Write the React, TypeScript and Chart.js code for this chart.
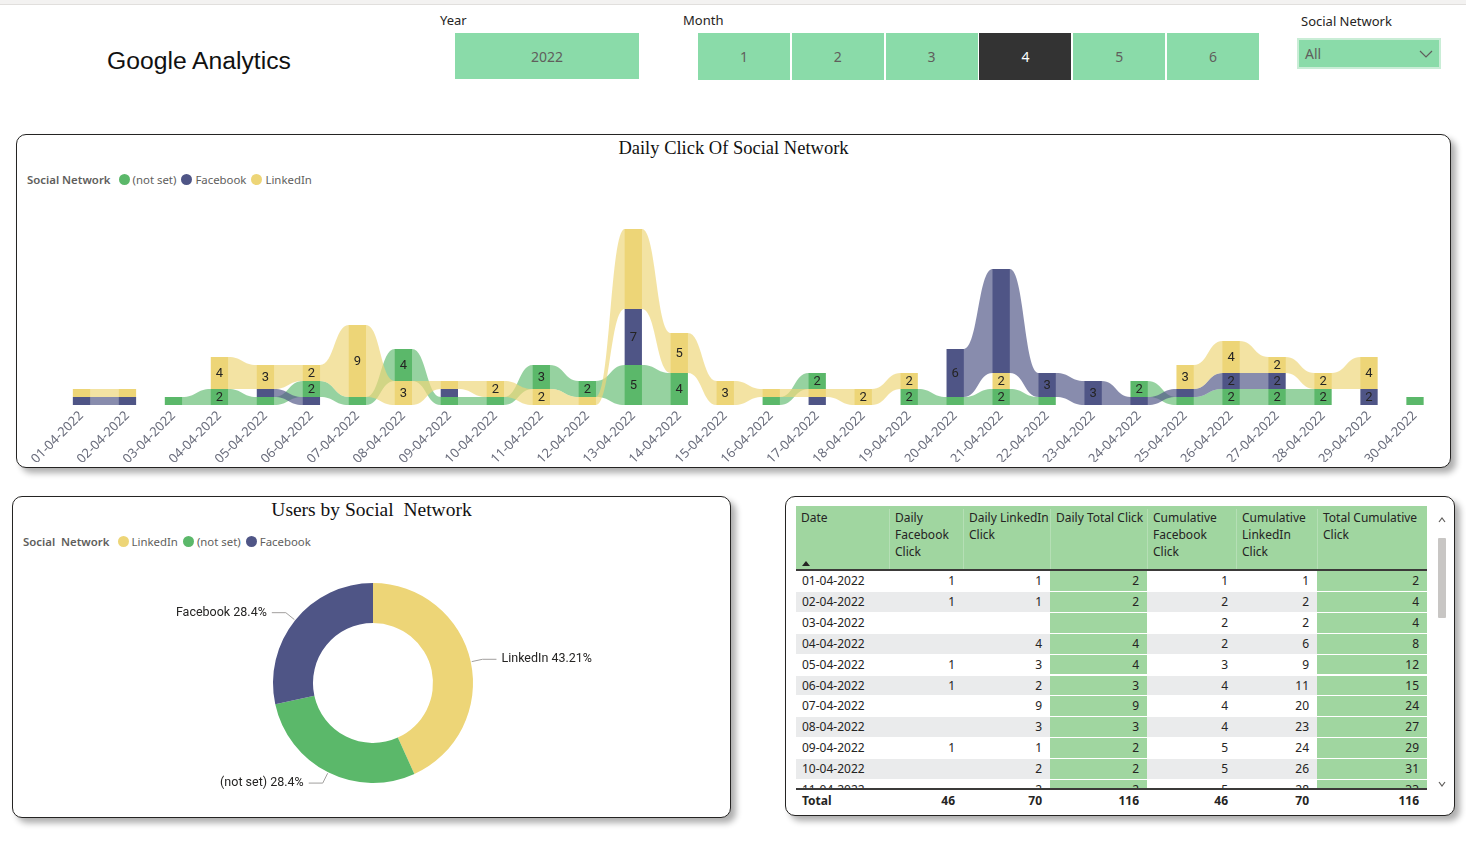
import React, { useEffect, useRef } from "react";
import { Chart, registerables } from "chart.js";

Chart.register(...registerables);

// ---------- data ----------
const dates = [
  "01-04-2022", "02-04-2022", "03-04-2022", "04-04-2022", "05-04-2022", "06-04-2022",
  "07-04-2022", "08-04-2022", "09-04-2022", "10-04-2022", "11-04-2022", "12-04-2022",
  "13-04-2022", "14-04-2022", "15-04-2022", "16-04-2022", "17-04-2022", "18-04-2022",
  "19-04-2022", "20-04-2022", "21-04-2022", "22-04-2022", "23-04-2022", "24-04-2022",
  "25-04-2022", "26-04-2022", "27-04-2022", "28-04-2022", "29-04-2022", "30-04-2022",
];
const notSetClicks = [0, 0, 1, 2, 1, 2, 1, 4, 1, 1, 3, 2, 5, 4, 0, 1, 2, 0, 2, 1, 2, 1, 0, 2, 1, 2, 2, 2, 0, 1];
const facebookClicks = [1, 1, 0, 0, 1, 1, 0, 0, 1, 0, 0, 0, 7, 0, 0, 0, 1, 0, 0, 6, 13, 3, 3, 1, 1, 2, 2, 0, 2, 0];
const linkedinClicks = [1, 1, 0, 4, 3, 2, 9, 3, 1, 2, 2, 1, 10, 5, 3, 1, 1, 2, 2, 0, 2, 0, 0, 0, 3, 4, 2, 2, 4, 0];
const seriesNames = ["(not set)", "Facebook", "LinkedIn"];
const donutLabels = ["LinkedIn", "(not set)", "Facebook"];
const yearOptions = ["2022"];
const monthOptions = ["1", "2", "3", "4", "5", "6"];
const selectedMonth = "4";

// ---------- styles ----------
const BAR_COLORS = ["#5BB86A", "#4F5586", "#EDD577"];
const RIBBON_COLORS = ["rgba(91,184,106,0.64)", "rgba(79,85,134,0.68)", "rgba(237,213,119,0.68)"];
const UI_FONT = '"Noto Sans", "Open Sans", sans-serif';
const SLICER = "#8ADBA9";
const TABLE_GREEN = "#A0D6A0";

const seriesValues = [notSetClicks, facebookClicks, linkedinClicks];

function stackRanges(i: number) {
  const vals = seriesValues.map((s) => s[i]);
  const order = [0, 1, 2].filter((s) => vals[s] > 0).sort((a, b) => vals[a] - vals[b] || a - b);
  const r: (number[] | null)[] = [null, null, null];
  let acc = 0;
  for (const s of order) {
    r[s] = [acc, acc + vals[s]];
    acc += vals[s];
  }
  return r;
}

const ribbonPlugin = {
  id: "ribbons",
  beforeDatasetsDraw(chart: any) {
    const ctx = chart.ctx;
    ctx.save();
    chart.data.datasets.forEach((ds: any, s: number) => {
      const meta = chart.getDatasetMeta(s);
      ctx.fillStyle = RIBBON_COLORS[s];
      for (let i = 0; i < ds.data.length - 1; i++) {
        if (!ds.data[i] || !ds.data[i + 1]) continue;
        const a = meta.data[i];
        const b = meta.data[i + 1];
        const aTop = Math.min(a.y, a.base), aBot = Math.max(a.y, a.base);
        const bTop = Math.min(b.y, b.base), bBot = Math.max(b.y, b.base);
        const x0 = a.x + a.width / 2;
        const x1 = b.x - b.width / 2;
        const xm = (x0 + x1) / 2;
        ctx.beginPath();
        ctx.moveTo(x0 - 1, aTop);
        ctx.lineTo(x0, aTop);
        ctx.bezierCurveTo(xm, aTop, xm, bTop, x1, bTop);
        ctx.lineTo(x1 + 1, bTop);
        ctx.lineTo(x1 + 1, bBot);
        ctx.lineTo(x1, bBot);
        ctx.bezierCurveTo(xm, bBot, xm, aBot, x0, aBot);
        ctx.lineTo(x0 - 1, aBot);
        ctx.closePath();
        ctx.fill();
      }
    });
    ctx.restore();
  },
};

const barLabelPlugin = {
  id: "barLabels",
  afterDatasetsDraw(chart: any) {
    const ctx = chart.ctx;
    ctx.save();
    ctx.font = '13px Roboto, "Noto Sans", sans-serif';
    ctx.fillStyle = "#252423";
    ctx.textAlign = "center";
    ctx.textBaseline = "middle";
    chart.data.datasets.forEach((ds: any, s: number) => {
      const meta = chart.getDatasetMeta(s);
      seriesValues[s].forEach((v, i) => {
        if (v >= 2 && v < 10) {
          const el = meta.data[i];
          ctx.fillText(String(v), el.x, (el.y + el.base) / 2 + 1);
        }
      });
    });
    ctx.restore();
  },
};

const sum = (a: number[]) => a.reduce((p, c) => p + c, 0);

const leaderPlugin = {
  id: "leaders",
  afterDraw(chart: any) {
    const ctx = chart.ctx;
    const meta = chart.getDatasetMeta(0);
    const data = chart.data.datasets[0].data as number[];
    const total = sum(data);
    ctx.save();
    ctx.font = '12.5px Roboto, "Noto Sans", sans-serif';
    ctx.fillStyle = "#252423";
    ctx.strokeStyle = "#A19F9D";
    ctx.lineWidth = 1;
    ctx.textBaseline = "middle";
    meta.data.forEach((arc: any, i: number) => {
      const mid = (arc.startAngle + arc.endAngle) / 2;
      const R = arc.outerRadius;
      const c = Math.cos(mid), sn = Math.sin(mid);
      const p1x = arc.x + c * (R + 1), p1y = arc.y + sn * (R + 1);
      const p2x = arc.x + c * (R + 12), p2y = arc.y + sn * (R + 12);
      const dir = c >= 0 ? 1 : -1;
      const p3x = p2x + dir * 14;
      ctx.beginPath();
      ctx.moveTo(p1x, p1y);
      ctx.lineTo(p2x, p2y);
      ctx.lineTo(p3x, p2y);
      ctx.stroke();
      const pct = parseFloat(((data[i] / total) * 100).toFixed(2));
      ctx.textAlign = dir > 0 ? "left" : "right";
      ctx.fillText(`${chart.data.labels[i]} ${pct}%`, p3x + dir * 5, p2y);
    });
    ctx.restore();
  },
};

function Legend({ left, top, title, items }: { left: number; top: number; title: string; items: { label: string; color: string }[] }) {
  return (
    <div style={{ position: "absolute", left, top, display: "flex", alignItems: "center", font: `11.4px ${UI_FONT}`, color: "#605E5C", whiteSpace: "pre" }}>
      <span style={{ fontWeight: 600, marginRight: 8 }}>{title}</span>
      {items.map((it) => (
        <span key={it.label} style={{ display: "flex", alignItems: "center", marginRight: 5 }}>
          <span style={{ width: 11, height: 11, borderRadius: "50%", background: it.color, marginRight: 3, display: "inline-block" }} />
          {it.label}
        </span>
      ))}
    </div>
  );
}

const card = (left: number, top: number, width: number, height: number): React.CSSProperties => ({
  position: "absolute",
  left,
  top,
  width,
  height,
  boxSizing: "border-box",
  border: "1px solid #252423",
  borderRadius: 10,
  background: "#fff",
  boxShadow: "5px 5px 6px rgba(0,0,0,0.32)",
});

const colWidths = [93, 74, 87, 97, 89, 81, 110];
const headers: string[][] = [
  ["Date"],
  ["Daily", "Facebook", "Click"],
  ["Daily LinkedIn", "Click"],
  ["Daily Total Click"],
  ["Cumulative", "Facebook", "Click"],
  ["Cumulative", "LinkedIn", "Click"],
  ["Total Cumulative", "Click"],
];
const greenCols = [3, 6];

export default function App() {
  const mainRef = useRef<HTMLCanvasElement>(null);
  const donutRef = useRef<HTMLCanvasElement>(null);

  useEffect(() => {
    document.body.style.margin = "0";
    document.body.style.overflow = "hidden";
    const ranges = dates.map((_, i) => stackRanges(i));
    const main = new Chart(mainRef.current!, {
      type: "bar",
      data: {
        labels: dates,
        datasets: seriesNames.map((name, s) => ({
          label: name,
          data: dates.map((_, i) => ranges[i][s]) as any,
          backgroundColor: BAR_COLORS[s],
          borderWidth: 0,
          grouped: false,
          categoryPercentage: 1,
          barPercentage: 0.376,
        })),
      },
      options: {
        animation: false,
        responsive: false,
        maintainAspectRatio: false,
        layout: { padding: { left: 41.5, right: 12, top: 5, bottom: 0 } },
        plugins: { legend: { display: false }, tooltip: { enabled: false } },
        scales: {
          x: {
            grid: { display: false, drawTicks: false },
            border: { display: false },
            ticks: {
              color: "#6A6D7C",
              font: { family: '"Noto Sans"', size: 13 },
              maxRotation: 45,
              minRotation: 45,
              autoSkip: false,
              padding: 3,
            },
            afterFit: (scale: any) => {
              scale.height = 57;
            },
          },
          y: { display: false, min: 0, max: 25 },
        },
      } as any,
      plugins: [ribbonPlugin, barLabelPlugin],
    });

    const donutValues = [sum(linkedinClicks), sum(notSetClicks), sum(facebookClicks)];
    const donut = new Chart(donutRef.current!, {
      type: "doughnut",
      data: {
        labels: donutLabels,
        datasets: [{ data: donutValues, backgroundColor: [BAR_COLORS[2], BAR_COLORS[0], BAR_COLORS[1]], borderWidth: 0 }],
      },
      options: {
        animation: false,
        responsive: false,
        maintainAspectRatio: false,
        cutout: "60%",
        layout: { padding: { top: 10, bottom: 10 } },
        plugins: { legend: { display: false }, tooltip: { enabled: false } },
      } as any,
      plugins: [leaderPlugin],
    });
    return () => {
      main.destroy();
      donut.destroy();
    };
  }, []);

  let cf = 0;
  let cl = 0;
  const tableRows = dates.slice(0, 12).map((d, i) => {
    cf += facebookClicks[i];
    cl += linkedinClicks[i];
    const tot = facebookClicks[i] + linkedinClicks[i];
    return [d, facebookClicks[i] || "", linkedinClicks[i] || "", tot || "", cf, cl, cf + cl];
  });
  const totals = ["Total", sum(facebookClicks), sum(linkedinClicks), sum(facebookClicks) + sum(linkedinClicks), sum(facebookClicks), sum(linkedinClicks), sum(facebookClicks) + sum(linkedinClicks)];
  const colLefts = colWidths.map((_, i) => colWidths.slice(0, i).reduce((a, b) => a + b, 0));

  const labelStyle: React.CSSProperties = { position: "absolute", font: `13px ${UI_FONT}`, color: "#252423", lineHeight: "18px" };

  return (
    <div style={{ position: "absolute", left: 0, top: 0, width: 1466, height: 852, background: "#fff", overflow: "hidden" }}>
      <div style={{ position: "absolute", left: 0, top: 0, width: 1466, height: 4, background: "#F3F2F1", borderBottom: "1px solid #E1DFDD" }} />

      <div style={{ position: "absolute", left: 107, top: 47, font: '24.7px "Liberation Sans", Arial, sans-serif', color: "#111", lineHeight: "28px" }}>Google Analytics</div>

      <div style={{ ...labelStyle, left: 440, top: 11 }}>Year</div>
      {yearOptions.map((y) => (
        <div key={y} style={{ position: "absolute", left: 455, top: 33, width: 184, height: 46, background: SLICER, display: "flex", alignItems: "center", justifyContent: "center", font: `14px ${UI_FONT}`, color: "#605E5C" }}>{y}</div>
      ))}

      <div style={{ ...labelStyle, left: 683, top: 11 }}>Month</div>
      {monthOptions.map((m, i) => {
        const sel = m === selectedMonth;
        return (
          <div key={m} style={{ position: "absolute", left: 698 + i * 93.8, top: 33, width: 92, height: 47, background: sel ? "#333333" : SLICER, display: "flex", alignItems: "center", justifyContent: "center", font: `14px ${UI_FONT}`, color: sel ? "#fff" : "#605E5C" }}>{m}</div>
        );
      })}

      <div style={{ ...labelStyle, left: 1301, top: 12 }}>Social Network</div>
      <div style={{ position: "absolute", left: 1297, top: 38, width: 144, height: 31, boxSizing: "border-box", background: SLICER, border: "2px solid #C9EDD6", font: `14px ${UI_FONT}`, color: "#605E5C", display: "flex", alignItems: "center", paddingLeft: 6 }}>
        All
        <svg width="14" height="8" style={{ position: "absolute", right: 6, top: 10 }}>
          <polyline points="1,1 7,7 13,1" fill="none" stroke="#605E5C" strokeWidth="1.2" />
        </svg>
      </div>

      {/* Card 1 */}
      <div style={card(16, 134, 1435, 334)} />
      <div style={{ position: "absolute", left: 16, top: 136, width: 1435, textAlign: "center", font: '18.5px "Liberation Serif", serif', color: "#111", lineHeight: "24px" }}>Daily Click Of Social Network</div>
      <Legend left={27} top={172} title="Social Network" items={seriesNames.map((n, s) => ({ label: n, color: BAR_COLORS[s] }))} />
      <canvas ref={mainRef} width={1433} height={262} style={{ position: "absolute", left: 17, top: 200, width: 1433, height: 262 }} />

      {/* Card 2 */}
      <div style={card(12, 496, 719, 322)} />
      <div style={{ position: "absolute", left: 12, top: 498, width: 719, textAlign: "center", font: '19.5px "Liberation Serif", serif', color: "#111", lineHeight: "24px", whiteSpace: "pre" }}>{"Users by Social  Network"}</div>
      <Legend left={23} top={534} title={"Social  Network"} items={donutLabels.map((n) => ({ label: n, color: BAR_COLORS[seriesNames.indexOf(n)] }))} />
      <canvas ref={donutRef} width={716} height={220} style={{ position: "absolute", left: 15, top: 573, width: 716, height: 220 }} />

      {/* Card 3 */}
      <div style={card(785, 496, 670, 320)} />
      <div style={{ position: "absolute", left: 796, top: 506, width: 631, height: 63, background: TABLE_GREEN, font: `12px ${UI_FONT}`, color: "#252423" }}>
        {headers.map((h, i) => (
          <div key={i} style={{ position: "absolute", left: colLefts[i], top: 3, width: colWidths[i], height: 60, boxSizing: "border-box", paddingLeft: 5, lineHeight: "17px", whiteSpace: "nowrap", borderLeft: i > 0 ? "1px solid #B5DFB5" : "none" }}>
            {h.map((line, k) => (
              <div key={k}>{line}</div>
            ))}
          </div>
        ))}
        <svg width="8" height="5" style={{ position: "absolute", left: 6, top: 55 }}>
          <polygon points="0,5 4,0 8,5" fill="#252423" />
        </svg>
      </div>
      <div style={{ position: "absolute", left: 796, top: 569, width: 631, height: 2, background: "#3B3A39" }} />
      <div style={{ position: "absolute", left: 796, top: 571, width: 631, height: 218, overflow: "hidden", font: `12px ${UI_FONT}`, color: "#252423" }}>
        {tableRows.map((r, ri) => (
          <div key={ri} style={{ position: "absolute", left: 0, top: ri * 20.9, width: 631, height: 20.9 }}>
            {r.map((v, ci) => (
              <div key={ci} style={{ position: "absolute", left: colLefts[ci], top: 0, width: colWidths[ci], height: 20.9, boxSizing: "border-box", borderBottom: "1px solid #fff", background: greenCols.includes(ci) ? TABLE_GREEN : ri % 2 === 1 ? "#EAEBEC" : "#fff", textAlign: ci === 0 ? "left" : "right", paddingLeft: ci === 0 ? 6 : 0, paddingRight: ci === 0 ? 0 : 8, lineHeight: "20px", whiteSpace: "nowrap" }}>{v}</div>
            ))}
          </div>
        ))}
      </div>
      <div style={{ position: "absolute", left: 796, top: 788, width: 631, height: 2, background: "#3B3A39" }} />
      <div style={{ position: "absolute", left: 796, top: 790, width: 631, height: 21, font: `bold 12px ${UI_FONT}`, color: "#252423" }}>
        {totals.map((v, ci) => (
          <div key={ci} style={{ position: "absolute", left: colLefts[ci], top: 0, width: colWidths[ci], height: 21, textAlign: ci === 0 ? "left" : "right", paddingLeft: ci === 0 ? 6 : 0, paddingRight: ci === 0 ? 0 : 8, boxSizing: "border-box", lineHeight: "21px" }}>{v}</div>
        ))}
      </div>
      {/* scrollbar */}
      <svg width="12" height="290" style={{ position: "absolute", left: 1436, top: 508 }}>
        <polyline points="3,14 6,10 9,14" fill="none" stroke="#605E5C" strokeWidth="1.2" />
        <rect x="2" y="30" width="8" height="80" rx="1" fill="#C8C6C4" />
        <polyline points="3,274 6,278 9,274" fill="none" stroke="#605E5C" strokeWidth="1.2" />
      </svg>
    </div>
  );
}
